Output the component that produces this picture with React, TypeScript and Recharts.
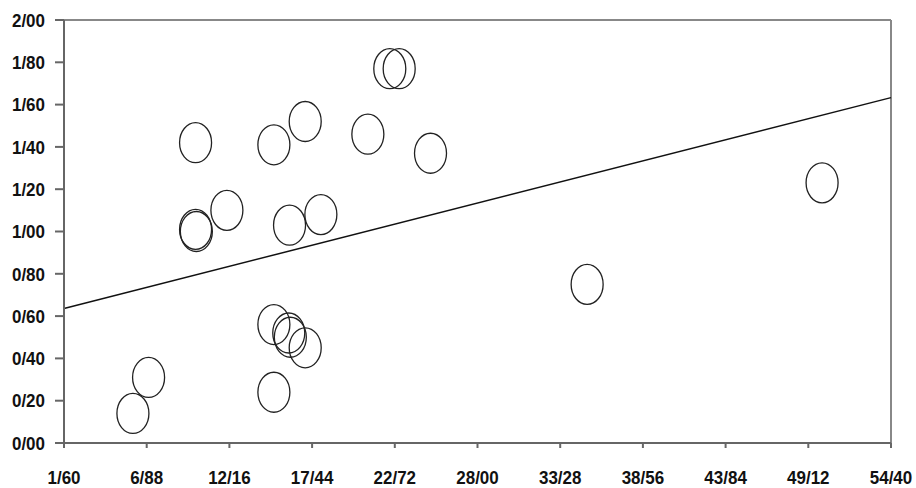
import { ReferenceLine, Scatter, ScatterChart, XAxis, YAxis } from "recharts";

const xValues = [6.0, 7.0, 10.0, 10.05, 12.0, 15.0, 16.0, 17.0, 18.0, 21.0, 22.4, 23.0, 25.0, 35.0, 15.0, 15.95, 16.05, 17.0, 15.0, 50.0, 10.0];
const yValues = [0.14, 0.31, 1.42, 1.0, 1.1, 1.41, 1.03, 1.52, 1.08, 1.46, 1.77, 1.77, 1.37, 0.75, 0.56, 0.52, 0.5, 0.45, 0.24, 1.23, 1.01];

const xTicks = [1.6, 6.88, 12.16, 17.44, 22.72, 28.0, 33.28, 38.56, 43.84, 49.12, 54.4];
const xTickLabels = ["1/60", "6/88", "12/16", "17/44", "22/72", "28/00", "33/28", "38/56", "43/84", "49/12", "54/40"];
const yTicks = [0, 0.2, 0.4, 0.6, 0.8, 1.0, 1.2, 1.4, 1.6, 1.8, 2.0];
const yTickLabels = ["0/00", "0/20", "0/40", "0/60", "0/80", "1/00", "1/20", "1/40", "1/60", "1/80", "2/00"];

// trend line end points
const trendX = [1.6, 54.4];
const trendY = [0.636, 1.633];

const points = xValues.map((x, i) => ({ x, y: yValues[i] }));

const labelFor = (ticks: number[], labels: string[], v: number) =>
  labels[ticks.findIndex((t) => Math.abs(t - v) < 1e-6)] ?? "";

// tall, slightly condensed bold labels like the source
const TickText = ({ x, y, anchor, text, dy }: any) => (
  <g transform={`translate(${x},${y}) scale(1,1.12)`}>
    <text
      x={0}
      y={0}
      dy={dy}
      textAnchor={anchor}
      fontFamily="'Liberation Sans', Arial, sans-serif"
      fontSize={17}
      fontWeight={700}
      fill="#111"
    >
      {text}
    </text>
  </g>
);

const XTick = (props: any) => {
  const { x, y, payload } = props;
  return <TickText x={x} y={y} anchor="middle" dy="0.71em" text={labelFor(xTicks, xTickLabels, payload.value)} />;
};

const YTick = (props: any) => {
  const { x, y, payload } = props;
  return <TickText x={x} y={y} anchor="end" dy="0.355em" text={labelFor(yTicks, yTickLabels, payload.value)} />;
};

const Ring = (props: any) => {
  const { cx, cy } = props;
  return <ellipse cx={cx} cy={cy} rx={16} ry={20} fill="none" stroke="#222" strokeWidth={1.3} />;
};

export default function App() {
  return (
    <div style={{ position: "absolute", left: 0, top: 0, width: 916, height: 488 }}>
      <ScatterChart width={916} height={488} margin={{ top: 20, right: 25, left: 0, bottom: 0 }}>
        <XAxis
          type="number"
          dataKey="x"
          domain={[1.6, 54.4]}
          ticks={xTicks}
          interval={0}
          height={45}
          tickSize={5}
          tickMargin={22}
          stroke="#666"
          strokeWidth={2}
          tick={<XTick />}
          allowDataOverflow
        />
        <YAxis
          type="number"
          dataKey="y"
          domain={[0, 2]}
          ticks={yTicks}
          interval={0}
          width={64}
          tickSize={9}
          tickMargin={10}
          stroke="#666"
          strokeWidth={2}
          tick={<YTick />}
          allowDataOverflow
        />
        <ReferenceLine y={2} stroke="#888" strokeWidth={2} />
        <ReferenceLine x={54.4} stroke="#888" strokeWidth={2} />
        <ReferenceLine
          segment={[
            { x: trendX[0], y: trendY[0] },
            { x: trendX[1], y: trendY[1] },
          ]}
          stroke="#111"
          strokeWidth={1.5}
        />
        <Scatter data={points} shape={Ring} isAnimationActive={false} />
      </ScatterChart>
    </div>
  );
}
